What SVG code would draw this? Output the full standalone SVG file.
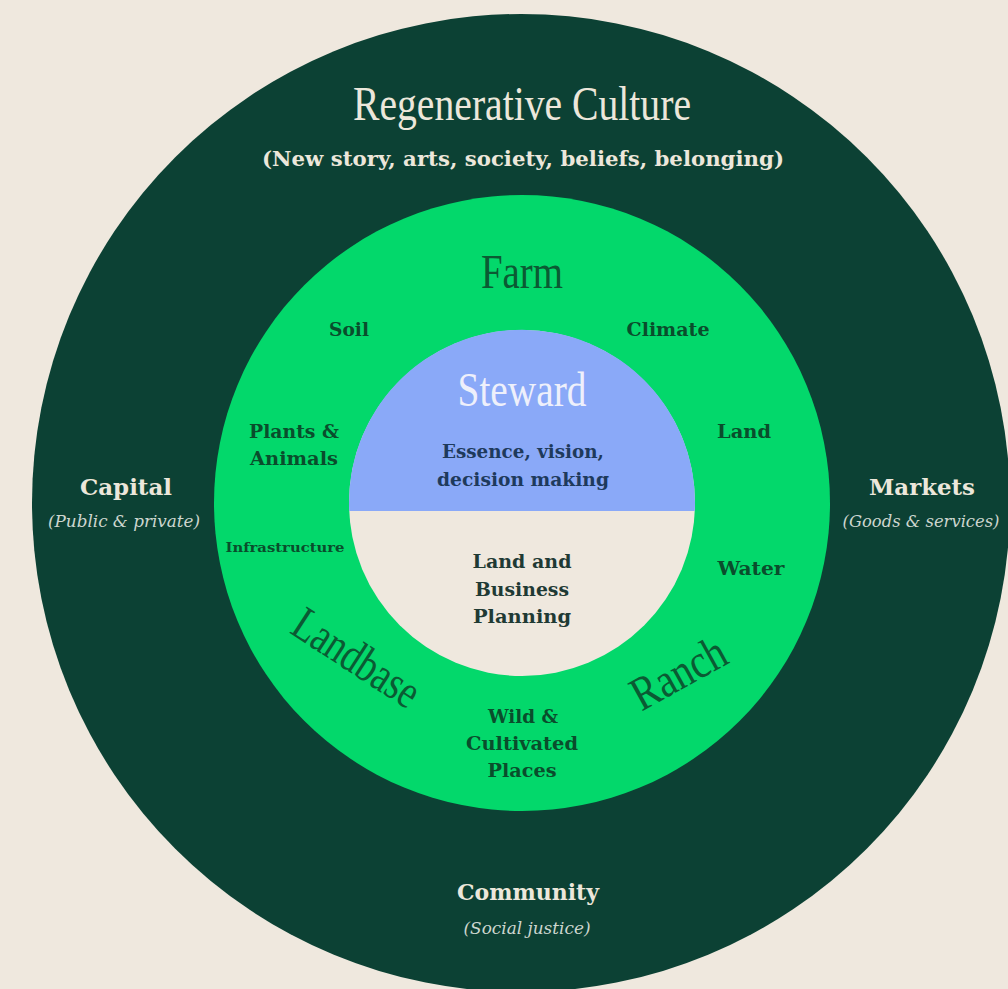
<svg xmlns="http://www.w3.org/2000/svg" width="1008" height="989" viewBox="0 0 1008 989">
<style>
.title{font-family:"Liberation Serif","DejaVu Serif",serif;font-weight:normal;text-anchor:middle}
.lbl{font-family:"DejaVu Serif","Liberation Serif",serif;font-weight:bold;text-anchor:middle}
.sub{font-family:"DejaVu Serif","Liberation Serif",serif;font-style:italic;text-anchor:middle}
.light{fill:#ece7db}
.dim{fill:#cdd6cf}
.ringtxt{fill:#0a4d2c}
</style>
<rect width="1008" height="989" fill="#efe8de"/>
<g id="culture">
<circle cx="521" cy="503" r="489" fill="#0c4134"/>
<text class="title light" x="522" y="120" font-size="49" textLength="338" lengthAdjust="spacingAndGlyphs">Regenerative Culture</text>
<text class="lbl light" x="523" y="166" font-size="20" textLength="522" lengthAdjust="spacingAndGlyphs">(New story, arts, society, beliefs, belonging)</text>
</g>
<g id="capital">
<text class="lbl light" x="126" y="495" font-size="23" textLength="92" lengthAdjust="spacingAndGlyphs">Capital</text>
<text class="sub dim" x="124" y="527" font-size="16" textLength="152" lengthAdjust="spacingAndGlyphs">(Public &amp; private)</text>
</g>
<g id="markets">
<text class="lbl light" x="922" y="495" font-size="23" textLength="106" lengthAdjust="spacingAndGlyphs">Markets</text>
<text class="sub dim" x="921" y="527" font-size="16" textLength="157" lengthAdjust="spacingAndGlyphs">(Goods &amp; services)</text>
</g>
<g id="community">
<text class="lbl light" x="528" y="900" font-size="22" textLength="142" lengthAdjust="spacingAndGlyphs">Community</text>
<text class="sub dim" x="527" y="934" font-size="16" textLength="127" lengthAdjust="spacingAndGlyphs">(Social justice)</text>
</g>
<g id="farm">
<circle cx="522" cy="503" r="308" fill="#03d86b"/>
<text class="title" x="522" y="288" font-size="48" fill="#0b5a33" textLength="82" lengthAdjust="spacingAndGlyphs">Farm</text>
<text class="lbl ringtxt" x="349" y="336" font-size="19" textLength="40" lengthAdjust="spacingAndGlyphs">Soil</text>
<text class="lbl ringtxt" x="668" y="336" font-size="19" textLength="83" lengthAdjust="spacingAndGlyphs">Climate</text>
<text class="lbl ringtxt" x="294" y="438" font-size="19" textLength="90" lengthAdjust="spacingAndGlyphs">Plants &amp;</text>
<text class="lbl ringtxt" x="294" y="465" font-size="19" textLength="88" lengthAdjust="spacingAndGlyphs">Animals</text>
<text class="lbl ringtxt" x="744" y="438" font-size="19" textLength="54" lengthAdjust="spacingAndGlyphs">Land</text>
<text class="lbl ringtxt" x="285" y="552" font-size="13" textLength="119" lengthAdjust="spacingAndGlyphs">Infrastructure</text>
<text class="lbl ringtxt" x="751" y="575" font-size="19" textLength="67" lengthAdjust="spacingAndGlyphs">Water</text>
<text class="lbl ringtxt" x="523" y="723" font-size="19" textLength="70" lengthAdjust="spacingAndGlyphs">Wild &amp;</text>
<text class="lbl ringtxt" x="522" y="750" font-size="19" textLength="112" lengthAdjust="spacingAndGlyphs">Cultivated</text>
<text class="lbl ringtxt" x="522" y="777" font-size="19" textLength="69" lengthAdjust="spacingAndGlyphs">Places</text>
</g>
<g id="landbase">
<text class="title" x="0" y="0" font-size="48" fill="#0b5a33" textLength="142" lengthAdjust="spacingAndGlyphs" transform="translate(348 671) rotate(33)">Landbase</text>
</g>
<g id="ranch">
<text class="title" x="0" y="0" font-size="48" fill="#0b5a33" textLength="102" lengthAdjust="spacingAndGlyphs" transform="translate(686 687) rotate(-29)">Ranch</text>
</g>
<g id="planning">
<circle cx="522" cy="503" r="173" fill="#efe8de"/>
<text class="lbl" x="522" y="568" font-size="19" fill="#1f3a34" textLength="99" lengthAdjust="spacingAndGlyphs">Land and</text>
<text class="lbl" x="522" y="596" font-size="19" fill="#1f3a34" textLength="94" lengthAdjust="spacingAndGlyphs">Business</text>
<text class="lbl" x="522" y="623" font-size="19" fill="#1f3a34" textLength="98" lengthAdjust="spacingAndGlyphs">Planning</text>
</g>
<g id="steward">
<path d="M349.2 511 A173 173 0 1 1 694.8 511 Z" fill="#8aa9f8"/>
<text class="title" x="522" y="406" font-size="49" fill="#eef0fb" textLength="129" lengthAdjust="spacingAndGlyphs">Steward</text>
<text class="lbl" x="523" y="458" font-size="19" fill="#1e3a5c" textLength="162" lengthAdjust="spacingAndGlyphs">Essence, vision,</text>
<text class="lbl" x="523" y="486" font-size="19" fill="#1e3a5c" textLength="172" lengthAdjust="spacingAndGlyphs">decision making</text>
</g>
</svg>
